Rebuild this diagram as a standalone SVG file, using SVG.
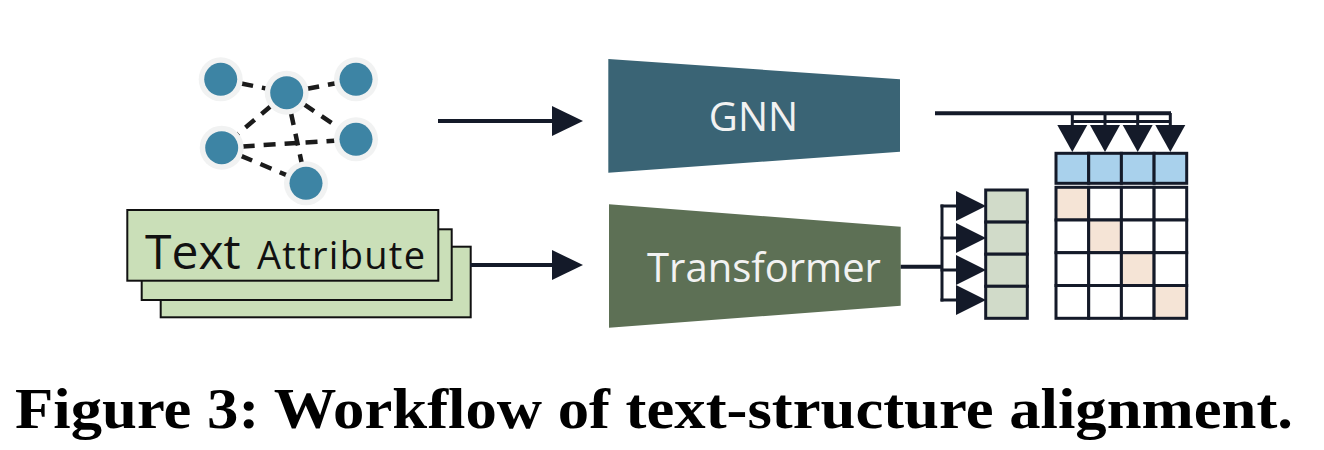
<svg xmlns="http://www.w3.org/2000/svg" width="1324" height="450" viewBox="0 0 1324 450">
<style>
.halo{fill:#f1f2f2}
.gnode{fill:#3d84a4}
.edge{stroke:#1b1b1b;stroke-width:4.5;stroke-dasharray:12 9;fill:none}
.card{fill:#cadfb8;stroke:#111;stroke-width:2}
.conn{stroke:#141a29;stroke-width:4;fill:none}
.thin{stroke:#141a29;stroke-width:3;fill:none}
.head{fill:#141a29}
.cell{stroke:#141a29;stroke-width:3}
.lbl{font-family:"Open Sans","Noto Sans",sans-serif}
</style>
<defs>
<marker id="ah" markerUnits="userSpaceOnUse" markerWidth="31" markerHeight="30" refX="0" refY="15" orient="auto" viewBox="0 0 31 30">
<path d="M0,0 L31,15 L0,30 z" fill="#141a29"/>
</marker>
<marker id="ahs" markerUnits="userSpaceOnUse" markerWidth="30" markerHeight="30" refX="0" refY="15" orient="auto" viewBox="0 0 30 30">
<path d="M0,0 L30,15 L0,30 z" fill="#141a29"/>
</marker>
</defs>
<rect width="1324" height="450" fill="#fff"/>

<g id="graph">
<g class="edges">
<line class="edge" x1="220.7" y1="79.3" x2="286.7" y2="92.7"/>
<line class="edge" x1="286.7" y1="92.7" x2="356" y2="79.3"/>
<line class="edge" x1="286.7" y1="92.7" x2="221.7" y2="147.7"/>
<line class="edge" x1="286.7" y1="92.7" x2="356" y2="139.3"/>
<line class="edge" x1="286.7" y1="92.7" x2="306" y2="183.3"/>
<line class="edge" x1="221.7" y1="147.7" x2="356" y2="139.3"/>
<line class="edge" x1="221.7" y1="147.7" x2="306" y2="183.3"/>
</g>
<g id="n1"><circle class="halo" cx="220.7" cy="79.3" r="22"/><circle class="gnode" cx="220.7" cy="79.3" r="16.5"/></g>
<g id="n2"><circle class="halo" cx="286.7" cy="92.7" r="22"/><circle class="gnode" cx="286.7" cy="92.7" r="16.5"/></g>
<g id="n3"><circle class="halo" cx="356" cy="79.3" r="22"/><circle class="gnode" cx="356" cy="79.3" r="16.5"/></g>
<g id="n4"><circle class="halo" cx="221.7" cy="147.7" r="22"/><circle class="gnode" cx="221.7" cy="147.7" r="16.5"/></g>
<g id="n5"><circle class="halo" cx="356" cy="139.3" r="22"/><circle class="gnode" cx="356" cy="139.3" r="16.5"/></g>
<g id="n6"><circle class="halo" cx="306" cy="183.3" r="22"/><circle class="gnode" cx="306" cy="183.3" r="16.5"/></g>
</g>

<g id="text-attribute">
<rect class="card" x="160.7" y="246.7" width="310" height="70.6"/>
<rect class="card" x="141.7" y="229.3" width="310" height="70.7"/>
<rect class="card" x="127.3" y="210" width="311" height="70.7"/>
<text class="lbl" x="145" y="269" font-size="48" fill="#111">Text</text>
<text class="lbl" x="257" y="269" font-size="38" fill="#111" textLength="168" lengthAdjust="spacing">Attribute</text>
</g>

<g id="gnn">
<polygon points="608.3,59 900,79.3 900,151.7 608.3,172.7" fill="#3a6475"/>
<text class="lbl" x="753.5" y="131" font-size="40" fill="#f2f2f2" text-anchor="middle">GNN</text>
</g>

<g id="transformer">
<polygon points="609,204.3 900.7,226.7 900.7,305.7 609,327.7" fill="#5d7055"/>
<text class="lbl" x="764" y="281.7" font-size="40" fill="#f2f2f2" text-anchor="middle">Transformer</text>
</g>

<g id="text-embeddings">
<rect class="cell" x="985.7" y="190" width="41.6" height="32.1" fill="#d1dbc9"/>
<rect class="cell" x="985.7" y="222.1" width="41.6" height="32.1" fill="#d1dbc9"/>
<rect class="cell" x="985.7" y="254.2" width="41.6" height="32.1" fill="#d1dbc9"/>
<rect class="cell" x="985.7" y="286.3" width="41.6" height="32" fill="#d1dbc9"/>
</g>

<g id="graph-embeddings">
<rect class="cell" x="1056" y="153.3" width="32.7" height="30" fill="#a9d1ec"/>
<rect class="cell" x="1088.7" y="153.3" width="32.7" height="30" fill="#a9d1ec"/>
<rect class="cell" x="1121.4" y="153.3" width="32.7" height="30" fill="#a9d1ec"/>
<rect class="cell" x="1154.1" y="153.3" width="32.6" height="30" fill="#a9d1ec"/>
</g>

<g id="similarity-matrix">
<rect class="cell" x="1056" y="187.3" width="32.7" height="32.7" fill="#f5e4d6"/>
<rect class="cell" x="1088.7" y="187.3" width="32.7" height="32.7" fill="#fff"/>
<rect class="cell" x="1121.4" y="187.3" width="32.7" height="32.7" fill="#fff"/>
<rect class="cell" x="1154.1" y="187.3" width="32.6" height="32.7" fill="#fff"/>
<rect class="cell" x="1056" y="220" width="32.7" height="32.7" fill="#fff"/>
<rect class="cell" x="1088.7" y="220" width="32.7" height="32.7" fill="#f5e4d6"/>
<rect class="cell" x="1121.4" y="220" width="32.7" height="32.7" fill="#fff"/>
<rect class="cell" x="1154.1" y="220" width="32.6" height="32.7" fill="#fff"/>
<rect class="cell" x="1056" y="252.7" width="32.7" height="32.8" fill="#fff"/>
<rect class="cell" x="1088.7" y="252.7" width="32.7" height="32.8" fill="#fff"/>
<rect class="cell" x="1121.4" y="252.7" width="32.7" height="32.8" fill="#f5e4d6"/>
<rect class="cell" x="1154.1" y="252.7" width="32.6" height="32.8" fill="#fff"/>
<rect class="cell" x="1056" y="285.5" width="32.7" height="32.8" fill="#fff"/>
<rect class="cell" x="1088.7" y="285.5" width="32.7" height="32.8" fill="#fff"/>
<rect class="cell" x="1121.4" y="285.5" width="32.7" height="32.8" fill="#fff"/>
<rect class="cell" x="1154.1" y="285.5" width="32.6" height="32.8" fill="#f5e4d6"/>
</g>

<g id="connectors">
<line class="conn" x1="438" y1="121" x2="552" y2="121" marker-end="url(#ah)"/>
<line class="conn" x1="470" y1="265" x2="552" y2="265" marker-end="url(#ah)"/>
<line class="conn" x1="900.7" y1="266.7" x2="942" y2="266.7"/>
<line class="thin" x1="942" y1="204.5" x2="942" y2="301.5"/>
<line class="thin" x1="940.5" y1="206" x2="956" y2="206" marker-end="url(#ahs)"/>
<line class="thin" x1="940.5" y1="238" x2="956" y2="238" marker-end="url(#ahs)"/>
<line class="thin" x1="940.5" y1="270" x2="956" y2="270" marker-end="url(#ahs)"/>
<line class="thin" x1="940.5" y1="300" x2="956" y2="300" marker-end="url(#ahs)"/>
<line class="conn" x1="935" y1="113.3" x2="1171" y2="113.3"/>
<line class="thin" x1="1072.3" y1="121.5" x2="1170.3" y2="121.5"/>
<line class="thin" x1="1072.3" y1="113" x2="1072.3" y2="125"/>
<line class="thin" x1="1105" y1="113" x2="1105" y2="125"/>
<line class="thin" x1="1137.7" y1="113" x2="1137.7" y2="125"/>
<line class="thin" x1="1170.3" y1="113" x2="1170.3" y2="125"/>
<path class="head" d="M1057.3,125 L1087.3,125 L1072.3,152 z"/>
<path class="head" d="M1090,125 L1120,125 L1105,152 z"/>
<path class="head" d="M1122.7,125 L1152.7,125 L1137.7,152 z"/>
<path class="head" d="M1155.3,125 L1185.3,125 L1170.3,152 z"/>
</g>

<text id="caption" x="15" y="427.5" font-family="'Liberation Serif','DejaVu Serif',serif" font-weight="bold" font-size="56" fill="#000" textLength="1278" lengthAdjust="spacingAndGlyphs">Figure 3: Workflow of text-structure alignment.</text>
</svg>
